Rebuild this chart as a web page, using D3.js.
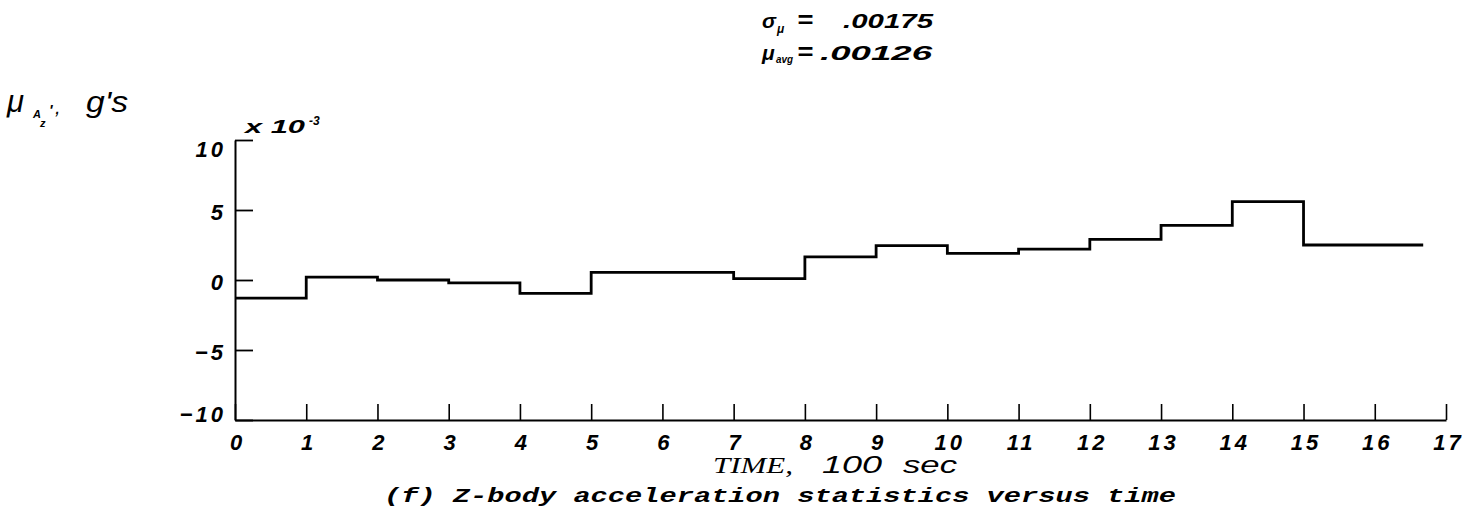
<!DOCTYPE html>
<html>
<head>
<meta charset="utf-8">
<script src="https://cdn.jsdelivr.net/npm/d3@7"></script>
<style>
  html, body { margin: 0; padding: 0; background: #fff; }
  svg { display: block; }
  .tick text { font-family: "Liberation Sans", Arial, sans-serif; font-style: italic; font-weight: bold; font-size: 22px; fill: #000; letter-spacing: 3px; }
</style>
</head>
<body>
<svg id="chart" width="1481" height="523"></svg>
<script>
// Segment start times (hundreds of seconds) and mean value in units of 10^-3 g
const segStart = [0, 1, 2, 3, 4, 5, 7, 8, 9, 10, 11, 12, 13, 14, 15];
const segValue = [-1.3, 0.2, 0.0, -0.2, -0.95, 0.55, 0.1, 1.65, 2.45, 1.9, 2.2, 2.9, 3.9, 5.6, 2.5];
const endTime = 16.68;
const xTicks = [0, 1, 2, 3, 4, 5, 6, 7, 8, 9, 10, 11, 12, 13, 14, 15, 16, 17];
const yTicks = [-10, -5, 0, 5, 10];

const svg = d3.select("#chart");
const x = d3.scaleLinear().domain([0, 17]).range([235, 1446]);
const y = d3.scaleLinear().domain([-10, 10]).range([420, 140]);

// X axis
const gx = svg.append("g").attr("transform", `translate(0,${y(-10)})`)
  .call(d3.axisBottom(x).tickValues(xTicks).tickFormat(d3.format("d"))
    .tickSizeInner(-16).tickSizeOuter(0).tickPadding(10));
gx.select(".domain").attr("stroke", "#000").attr("stroke-width", 2);
gx.selectAll(".tick line").attr("stroke", "#000").attr("stroke-width", 1.6);
gx.selectAll(".tick text").attr("dy", "0.9em").attr("dx", 2);

// Y axis
const gy = svg.append("g").attr("transform", `translate(${x(0)},0)`)
  .call(d3.axisLeft(y).tickValues(yTicks).tickFormat(d3.format("d"))
    .tickSizeInner(-18).tickSizeOuter(0).tickPadding(9));
gy.select(".domain").attr("stroke", "#000").attr("stroke-width", 2);
gy.selectAll(".tick line").attr("stroke", "#000").attr("stroke-width", 1.8);
gy.selectAll(".tick text").attr("dy", d => d === 10 ? "0.75em" : d === -10 ? "0.05em" : "0.45em");

// Step line
const pts = segStart.map((t, i) => [t, segValue[i]]);
pts.push([endTime, segValue[segValue.length - 1]]);
svg.append("path")
  .datum(pts)
  .attr("fill", "none")
  .attr("stroke", "#000")
  .attr("stroke-width", 2.8)
  .attr("d", d3.line().x(d => x(d[0])).y(d => y(d[1])).curve(d3.curveStepAfter));

// Texts
const sans = "'Liberation Sans', Arial, sans-serif";
function txt(xp, yp, s, size, opts = {}) {
  const t = svg.append("text").attr("x", xp).attr("y", yp)
    .attr("font-family", opts.family || sans)
    .attr("font-size", size)
    .attr("font-style", opts.style || "italic")
    .attr("font-weight", opts.weight || "bold")
    .attr("fill", "#000")
    .text(s);
  if (opts.anchor) t.attr("text-anchor", opts.anchor);
  if (opts.len) t.attr("textLength", opts.len).attr("lengthAdjust", "spacingAndGlyphs");
  return t;
}

// Top statistics
txt(762, 28, "σ", 21);
txt(777, 33, "μ", 12);
txt(797, 28, "=", 24, { len: 16 });
txt(843, 28, ".00175", 21, { len: 90 });
txt(762, 60, "μ", 21);
txt(776, 63, "avg", 11, { len: 17 });
txt(797, 60, "=", 24, { len: 16 });
txt(820, 60, ".00126", 21, { len: 112 });

// Y axis label
txt(7, 112, "μ", 31, { weight: "normal" });
txt(33, 118, "A", 11);
txt(40, 127, "z", 11);
txt(49, 115, "'", 15);
txt(55, 114, ",", 20, { weight: "normal" });
txt(86, 112, "g's", 29, { weight: "normal", len: 42 });

// Exponent
txt(245, 133, "x 10", 19, { len: 60 });
txt(309, 125, "-3", 12);

// X axis title
txt(713, 473, "TIME,", 23, { family: "'Liberation Serif', serif", weight: "normal", len: 80 });
txt(822, 473, "100", 24, { weight: "normal", len: 60 });
txt(903, 473, "sec", 24, { weight: "normal", len: 54 });

// Caption
txt(384, 502, "(f) Z-body acceleration statistics versus time", 21,
  { family: "'Liberation Mono', 'Courier New', monospace", len: 792 });
</script>
</body>
</html>
